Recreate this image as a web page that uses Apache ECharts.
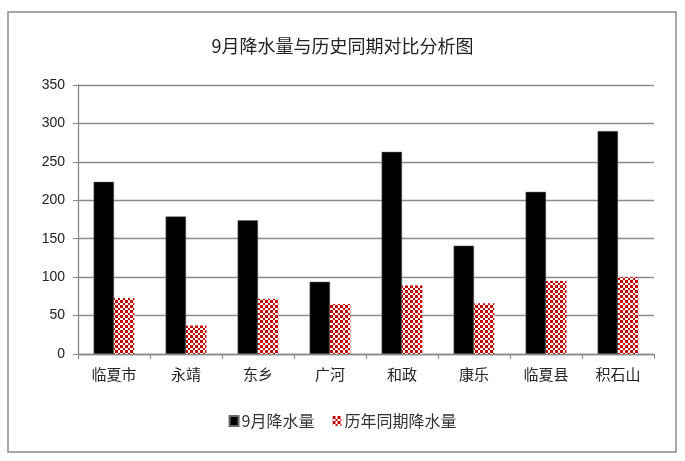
<!DOCTYPE html>
<html><head><meta charset="utf-8">
<script src="https://cdn.jsdelivr.net/npm/echarts@6/dist/echarts.min.js"></script>
<style>html,body{margin:0;padding:0;background:#fff}#c{width:685px;height:461px}</style>
</head><body><div id="c"></div>
<script>
var categories = ['临夏市','永靖','东乡','广河','和政','康乐','临夏县','积石山'];
var septRain = [224, 179, 174, 94, 263, 141, 211, 290];
var histRain = [73, 37, 72, 65, 89, 66, 95, 100];
var yTicks = [0, 50, 100, 150, 200, 250, 300, 350];

function checker() {
  var c = document.createElement('canvas');
  c.width = 5; c.height = 5;
  var g = c.getContext('2d');
  g.fillStyle = '#ffffff'; g.fillRect(0,0,5,5);
  g.fillStyle = '#c40000';
  g.fillRect(0,0,3,3);
  g.fillRect(3,3,2,2);
  return c;
}
var pat = {image: checker(), repeat: 'repeat'};

var chart = echarts.init(document.getElementById('c'));
var cjk = '"Noto Sans CJK SC", sans-serif';
chart.setOption({
  animation: false,
  title: {text: '9月降水量与历史同期对比分析图', left: 'center', top: 32,
    textStyle: {fontFamily: cjk, fontSize: 18, fontWeight: 'normal', color: '#222'}},
  graphic: [{type: 'rect', shape: {x: 8, y: 12, width: 668, height: 440},
    style: {fill: 'none', stroke: '#8a8a8a', lineWidth: 1.5}, silent: true}],
  legend: {bottom: 27, left: 'center', itemWidth: 9, itemHeight: 10, itemGap: 18,
    icon: 'rect',
    textStyle: {fontFamily: cjk, fontSize: 16, color: '#333', padding: [0,0,0,-2]},
    data: ['9月降水量', '历年同期降水量']},
  grid: {left: 78, right: 31, top: 85, bottom: 107},
  xAxis: {type: 'category', data: categories,
    axisLine: {lineStyle: {color: '#888', width: 1.3}},
    axisTick: {show: true, length: 5, lineStyle: {color: '#888'}},
    axisLabel: {fontFamily: cjk, fontSize: 15, color: '#222', margin: 13}},
  yAxis: {type: 'value', min: yTicks[0], max: yTicks[yTicks.length-1], interval: 50,
    axisLine: {show: true, lineStyle: {color: '#888', width: 1.3}},
    axisTick: {show: true, length: 5, lineStyle: {color: '#888'}},
    splitLine: {lineStyle: {color: '#8c8c8c', width: 1.3}},
    axisLabel: {fontFamily: '"Liberation Sans", sans-serif', fontSize: 14, color: '#222', margin: 13}},
  series: [
    {name: '9月降水量', type: 'bar', data: septRain, barWidth: '28.3%', barGap: '0%',
      itemStyle: {color: '#000', borderColor: '#666', borderWidth: 0.5}},
    {name: '历年同期降水量', type: 'bar', data: histRain, barWidth: '28.3%',
      itemStyle: {color: pat}}
  ]
});
</script></body></html>
